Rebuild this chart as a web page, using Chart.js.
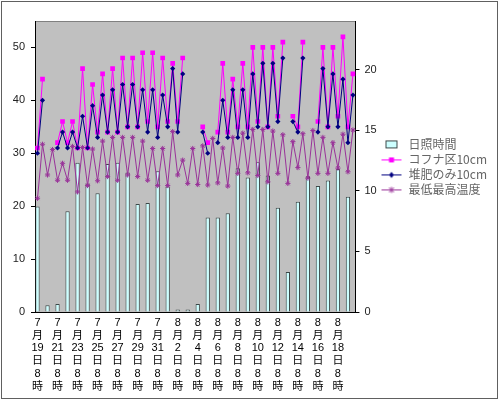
<!DOCTYPE html>
<html>
<head>
<meta charset="utf-8">
<script src="https://cdn.jsdelivr.net/npm/chart.js@4.4.1/dist/chart.umd.min.js"></script>
<style>
  body { margin: 0; background: #fff; }
  #wrap { width: 500px; height: 401px; }
</style>
</head>
<body>
<div id="wrap"><canvas id="chart" width="500" height="401"></canvas></div>
<script>
// days and reading times (8時 = morning, 2nd = afternoon reading)
const days = ['7月19日', '7月20日', '7月21日', '7月22日', '7月23日', '7月24日', '7月25日', '7月26日',
  '7月27日', '7月28日', '7月29日', '7月30日', '7月31日', '8月1日', '8月2日', '8月3日',
  '8月4日', '8月5日', '8月6日', '8月7日', '8月8日', '8月9日', '8月10日', '8月11日',
  '8月12日', '8月13日', '8月14日', '8月15日', '8月16日', '8月17日', '8月18日', '8月19日'];
const hours = ['8時', '14時'];

// 日照時間 (one per day, right axis)
const sunshine = [8.7, 0.55, 0.66, 8.3, 12.3, 10.6, 9.8, 12.2, 12.3, 11.5, 8.9, 9.0, 11.6, 10.35, 0.2, 0.2,
  0.66, 7.8, 7.8, 8.15, 11.85, 11.1, 12.35, 11.25, 8.6, 3.3, 9.1, 11.2, 10.4, 10.85, 11.8, 9.5];

// soil temperature at 10cm, two readings per day
const kofuna = [31, 44, null, null, 32, 36, 32, 36, 31, 46,
  31, 43, 34, 45, 34, 46, 34, 48, 35, 48,
  35, 49, 36, 49, 35, 48, 36, 47, 36, 48,
  null, null, null, 35, 32, null, 34, 47, 34, 44,
  35, 47, 35, 50, 36, 50, 35, 50, 37, 51,
  null, 37, 35, 51, null, null, 36, 50, 35, 50,
  37, 52, 35, 45];
const taihi = [30, 40, null, null, 31, 34, 31, 34, 31, 37,
  31, 39, 33, 41, 34, 42, 34, 43, 35, 43,
  35, 42, 34, 42, 33, 41, 35, 46, 34, 45,
  null, null, null, 34, 30, null, 32, 40, 33, 42,
  33, 42, 33, 45, 35, 47, 35, 47, 36, 48,
  null, 36, 34, 48, null, null, 34, 46, 35, 45,
  35, 44, 32, 41];

// 最低最高温度 (min at 8時, max in afternoon)
const airTemp = [21.5, 31.7, 25.9, 30.7, 24.9, 28.1, 24.9, 31.3, 22.7, 31.1,
  23.9, 30.8, 24.8, 32.3, 25.6, 33.0, 24.9, 33.0, 25.9, 33.0,
  25.6, 32.3, 24.9, 30.9, 23.9, 30.9, 23.9, 34.1, 25.9, 28.7,
  24.3, 30.9, 24.1, 31.4, 24.0, 32.8, 24.4, 31.0, 23.8, 33.0,
  26.2, 33.8, 26.3, 34.5, 25.8, 34.5, 24.6, 34.2, 26.2, 33.5,
  24.3, 32.2, 27.3, 33.7, 25.3, 34.3, 26.2, 33.0, 26.2, 32.0,
  27.2, 33.6, 26.5, 34.4];

const labels = [];
days.forEach(d => hours.forEach(h => labels.push(d + h)));
const barData = labels.map((_, i) => i % 2 === 0 ? sunshine[i / 2] : null);

const BAR_FILL = '#ccffff', BAR_EDGE = '#3c4848';
const MAGENTA = '#ff00ff', NAVY = '#000080', PURPLE = '#993399';

// small legend icons: line + marker like excel
function icon(kind, color) {
  const c = document.createElement('canvas');
  c.width = 22; c.height = 10;
  const g = c.getContext('2d');
  if (kind === 'bar') {
    g.fillStyle = BAR_FILL; g.fillRect(5.5, 1.5, 11, 7);
    g.strokeStyle = BAR_EDGE; g.lineWidth = 1; g.strokeRect(5.5, 1.5, 11, 7);
    return c;
  }
  g.strokeStyle = color; g.lineWidth = 1;
  g.beginPath(); g.moveTo(1, 5.5); g.lineTo(21, 5.5); g.stroke();
  g.fillStyle = color;
  if (kind === 'rect') g.fillRect(8.5, 3, 5, 5);
  if (kind === 'rectRot') {
    g.beginPath(); g.moveTo(11, 2.5); g.lineTo(13.5, 5.5); g.lineTo(11, 8.5); g.lineTo(8.5, 5.5); g.closePath(); g.fill();
  }
  if (kind === 'star') {
    g.beginPath();
    g.moveTo(8.5, 3); g.lineTo(13.5, 8); g.moveTo(13.5, 3); g.lineTo(8.5, 8);
    g.moveTo(11, 2.5); g.lineTo(11, 8.5);
    g.stroke();
  }
  return c;
}
const icons = [icon('bar'), icon('rect', MAGENTA), icon('rectRot', NAVY), icon('star', PURPLE)];

const plotBg = {
  id: 'plotBg',
  beforeDraw(chart) {
    const {ctx, chartArea: a} = chart;
    ctx.save();
    ctx.fillStyle = '#fff';
    ctx.fillRect(0, 0, chart.width, chart.height);
    ctx.fillStyle = '#c0c0c0';
    ctx.fillRect(a.left, a.top, a.right - a.left, a.bottom - a.top);
    ctx.strokeStyle = '#808080';
    ctx.lineWidth = 1;
    ctx.beginPath();
    ctx.moveTo(a.left, a.top + 0.5); ctx.lineTo(a.right, a.top + 0.5);
    ctx.stroke();
    ctx.restore();
  },
  afterDraw(chart) {
    const ctx = chart.ctx;
    ctx.save();
    ctx.strokeStyle = '#606060';
    ctx.lineWidth = 1;
    ctx.strokeRect(1.5, 1.5, chart.width - 4, chart.height - 4);
    ctx.restore();
  }
};

function splitLabel(s) {
  return s.match(/\d+|\D/g);
}

new Chart(document.getElementById('chart'), {
  type: 'bar',
  data: {
    labels: labels,
    datasets: [{
      label: '日照時間',
      data: barData,
      yAxisID: 'y1',
      backgroundColor: BAR_FILL,
      borderColor: BAR_EDGE,
      borderWidth: 1,
      barPercentage: 0.86,
      categoryPercentage: 1,
      order: 4
    }, {
      type: 'line',
      label: 'コフナ区10cm',
      data: kofuna,
      yAxisID: 'y',
      borderColor: MAGENTA,
      backgroundColor: MAGENTA,
      borderWidth: 1,
      pointStyle: 'rect',
      pointRadius: 3.3,
      pointBorderWidth: 0,
      spanGaps: false,
      order: 3
    }, {
      type: 'line',
      label: '堆肥のみ10cm',
      data: taihi,
      yAxisID: 'y',
      borderColor: NAVY,
      backgroundColor: NAVY,
      borderWidth: 1,
      pointStyle: 'rectRot',
      pointRadius: 2.6,
      pointBorderWidth: 0,
      spanGaps: false,
      order: 2
    }, {
      type: 'line',
      label: '最低最高温度',
      data: airTemp,
      yAxisID: 'y',
      borderColor: PURPLE,
      backgroundColor: PURPLE,
      borderWidth: 1,
      pointStyle: 'star',
      pointRadius: 2.6,
      pointBorderWidth: 1,
      order: 1
    }]
  },
  options: {
    responsive: false,
    devicePixelRatio: 1,
    animation: false,
    layout: { padding: { top: 21, left: 0, right: 3, bottom: 0 } },
    plugins: {
      tooltip: { enabled: false },
      legend: {
        position: 'right',
        align: 'start',
        maxWidth: 140,
        title: { display: true, text: '', padding: { top: 100, bottom: 0 } },
        labels: {
          usePointStyle: true,
          pointStyleWidth: 22,
          padding: 3,
          color: '#000',
          font: { family: '"Noto Sans CJK JP", sans-serif', size: 12 },
          generateLabels: (chart) => chart.data.datasets.map((ds, i) => ({
            text: ds.label,
            datasetIndex: i,
            pointStyle: icons[i],
            fillStyle: ds.backgroundColor,
            strokeStyle: ds.borderColor,
            lineWidth: 0,
            hidden: false
          }))
        }
      }
    },
    scales: {
      x: {
        grid: { display: false, drawTicks: false },
        border: { display: true, color: '#000' },
        ticks: {
          autoSkip: false,
          maxRotation: 0,
          minRotation: 0,
          padding: 4,
          color: '#000',
          font: { family: '"Liberation Sans", "Noto Sans CJK JP", sans-serif', size: 11, lineHeight: 1.18 },
          callback: function (value, index) {
            return index % 4 === 0 ? splitLabel(this.getLabelForValue(value)) : '';
          }
        },
        afterFit: (s) => { s.height = 89; }
      },
      y: {
        position: 'left',
        min: 0,
        max: 55,
        ticks: {
          stepSize: 10,
          padding: 6,
          color: '#222',
          font: { family: '"Liberation Sans", sans-serif', size: 11 }
        },
        grid: { drawOnChartArea: false, tickLength: 4, color: '#000' },
        border: { color: '#000' },
        afterBuildTicks: (s) => { s.ticks = s.ticks.filter(t => t.value % 10 === 0); },
        afterFit: (s) => { s.width = 35; }
      },
      y1: {
        position: 'right',
        min: 0,
        max: 24,
        ticks: {
          stepSize: 5,
          padding: 5,
          color: '#222',
          font: { family: '"Liberation Sans", sans-serif', size: 11 }
        },
        grid: { drawOnChartArea: false, tickLength: 4, color: '#000' },
        border: { color: '#000' },
        afterBuildTicks: (s) => { s.ticks = s.ticks.filter(t => t.value % 5 === 0); },
        afterFit: (s) => { s.width = 22; }
      }
    }
  },
  plugins: [plotBg]
});
</script>
</body>
</html>
